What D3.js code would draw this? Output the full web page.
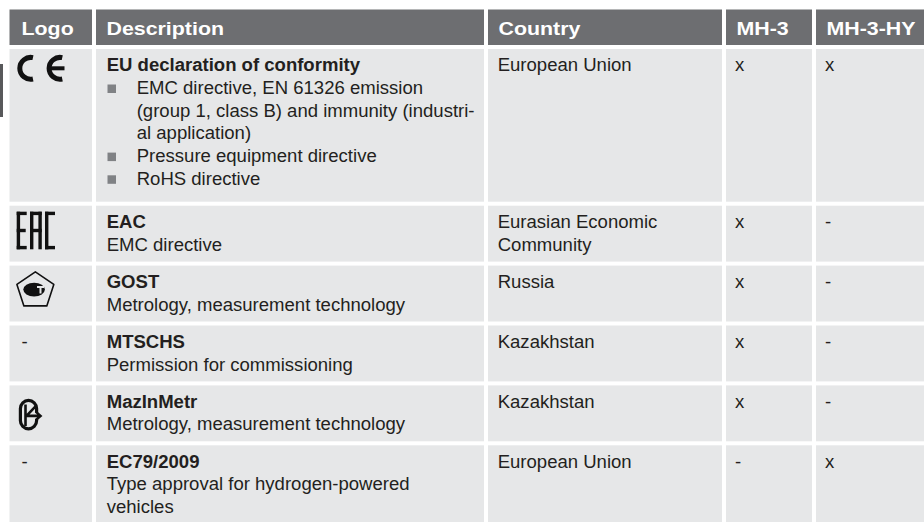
<html>
<head>
<script src="https://d3js.org/d3.v7.min.js"></script>
<style>
  body { margin: 0; background: #fff; }
  svg { display: block; }
  text { font-family: "Liberation Sans", Arial, sans-serif; }
</style>
</head>
<body>
<script>
// table content
var headers = ["Logo", "Description", "Country", "MH-3", "MH-3-HY"];
var logos = ["ce", "eac", "gost", "-", "kz", "-"];
var titles = ["EU declaration of conformity", "EAC", "GOST", "MTSCHS", "MazInMetr", "EC79/2009"];
// "* " starts a bullet item, "  " continues it
var details = [
  ["* EMC directive, EN 61326 emission", "  (group 1, class B) and immunity (industri-", "  al application)",
   "* Pressure equipment directive", "* RoHS directive"],
  ["EMC directive"],
  ["Metrology, measurement technology"],
  ["Permission for commissioning"],
  ["Metrology, measurement technology"],
  ["Type approval for hydrogen-powered", "vehicles"]
];
var countries = [["European Union"], ["Eurasian Economic", "Community"], ["Russia"], ["Kazakhstan"], ["Kazakhstan"], ["European Union"]];
var mh3 = ["x", "x", "x", "x", "x", "-"];
var mh3hy = ["x", "-", "-", "-", "-", "x"];

var W = 924, H = 522;
var colLeft = [9.5, 96, 488, 726, 816];
var colRight = [92, 484, 722, 812, 930];
var gap = 4, lineH = 22.7;
var headTop = 9.5, headH = 35.5;
var textCol = "#231f20";

var svg = d3.select("body").append("svg").attr("width", W).attr("height", H);

// dark page marker at left edge
svg.append("rect").attr("x", 0).attr("y", 64).attr("width", 3).attr("height", 53).attr("fill", "#58595b");

function txt(g, s, x, y, opt) {
  opt = opt || {};
  return g.append("text")
    .attr("transform", "translate(" + x + "," + y + ") scale(" + (opt.sx || 1.06) + ",1)")
    .attr("font-size", opt.size || 17.5)
    .attr("font-weight", opt.bold ? "bold" : "normal")
    .attr("fill", opt.fill || textCol)
    .text(s);
}

// header
headers.forEach(function (h, i) {
  svg.append("rect").attr("x", colLeft[i]).attr("y", headTop)
    .attr("width", colRight[i] - colLeft[i]).attr("height", headH).attr("fill", "#6d6e71");
  txt(svg, h, colLeft[i] + (i == 0 ? 12 : 10.5), headTop + 25.8, {bold: true, sx: 1.2, size: 17.8, fill: "#fff"});
});

// rows
var y = headTop + headH + gap;
titles.forEach(function (t, r) {
  var lines = details[r];
  var hasBullets = lines.some(function (l) { return l[0] == "*"; });
  var n = 1 + lines.length;
  var h = n * lineH + 10.5 + (hasBullets ? 6 : 0);
  var g = svg.append("g").attr("class", "row");
  colLeft.forEach(function (x, i) {
    g.append("rect").attr("x", x).attr("y", y).attr("width", colRight[i] - x).attr("height", h).attr("fill", "#e6e7e8");
  });
  var base = y + 22.3;

  // description
  txt(g, t, colLeft[1] + 10.7, base, {bold: true});
  lines.forEach(function (l, k) {
    var by = base + (k + 1) * lineH;
    if (l[0] == "*" || l[0] == " ") {
      if (l[0] == "*") {
        g.append("rect").attr("x", colLeft[1] + 11.5).attr("y", by - 9.5)
          .attr("width", 8.5).attr("height", 8.5).attr("fill", "#808285");
      }
      txt(g, l.slice(2), colLeft[1] + 40.7, by);
    } else {
      txt(g, l, colLeft[1] + 10.7, by);
    }
  });
  countries[r].forEach(function (c, k) { txt(g, c, colLeft[2] + 9.7, base + k * lineH); });
  txt(g, mh3[r], colLeft[3] + 9, base);
  txt(g, mh3hy[r], colLeft[4] + 9, base);

  // logo
  var lg = g.append("g").attr("transform", "translate(" + colLeft[0] + "," + y + ")");
  drawLogo(lg, logos[r], base - y);

  y += h + gap;
});

function drawLogo(g, kind, bl) {
  if (kind == "-") {
    txt(g, "-", 12, bl);
  } else if (kind == "ce") {
    var r = 10.9, cy = 19.3;
    [21.2, 50.5].forEach(function (cx) {
      var a0 = 78 * Math.PI / 180, a1 = 282 * Math.PI / 180;
      var p = d3.path();
      p.moveTo(cx + r * Math.cos(a0), cy - r * Math.sin(a0));
      p.arc(cx, cy, r, -a0, -a1, true);
      g.append("path").attr("d", p.toString()).attr("fill", "none").attr("stroke", "#111").attr("stroke-width", 5);
    });
    g.append("rect").attr("x", 50.5 - 13).attr("y", cy - 2).attr("width", 17.5).attr("height", 4).attr("fill", "#111");
  } else if (kind == "eac") {
    var s = 3.4, t = 6, hh = 37.6;
    var bars = [
      [7.2, t, s, hh], [7.2, t, 10, s], [7.2, t + hh / 2 - s / 2, 9, s], [7.2, t + hh - s, 10, s],
      [20.5, t, s, hh], [28.9, t, s, hh], [20.5, t, 11.7, s], [20.5, t + hh / 2 - s / 2, 11.7, s],
      [35.5, t, s, hh], [35.5, t, 10, s], [35.5, t + hh - s, 10, s]
    ];
    bars.forEach(function (b) {
      g.append("rect").attr("x", b[0]).attr("y", b[1]).attr("width", b[2]).attr("height", b[3]).attr("fill", "#111");
    });
  } else if (kind == "gost") {
    var pts = [[25.85, 6.2], [44.3, 18.8], [37.3, 40.3], [14.4, 40.3], [7.4, 18.8]];
    g.append("path").attr("d", "M" + pts.join("L") + "Z").attr("fill", "none")
      .attr("stroke", "#111").attr("stroke-width", 1.6).attr("stroke-linejoin", "round");
    g.append("ellipse").attr("cx", 24.6).attr("cy", 24).attr("rx", 10.8).attr("ry", 6.8).attr("fill", "#111");
    g.append("path").attr("d", "M27.5,20.3H34.6V22.3H32V28H30V22.3H27.5Z").attr("fill", "#e6e7e8");
  } else if (kind == "kz") {
    g.append("rect").attr("x", 10.9).attr("y", 15).attr("width", 16.2).attr("height", 28.4).attr("rx", 8.1)
      .attr("fill", "none").attr("stroke", "#111").attr("stroke-width", 3.2);
    g.append("rect").attr("x", 25.5).attr("y", 27.5).attr("width", 4).attr("height", 6).attr("fill", "#e6e7e8");
    g.append("path").attr("d", "M16,19V40.5 M16.5,31L26.5,20.5 M17.5,30.5H31 M26.5,26.5L31,30.5L26.5,34.5")
      .attr("fill", "none").attr("stroke", "#111").attr("stroke-width", 2.6);
  }
}
</script>
</body>
</html>
